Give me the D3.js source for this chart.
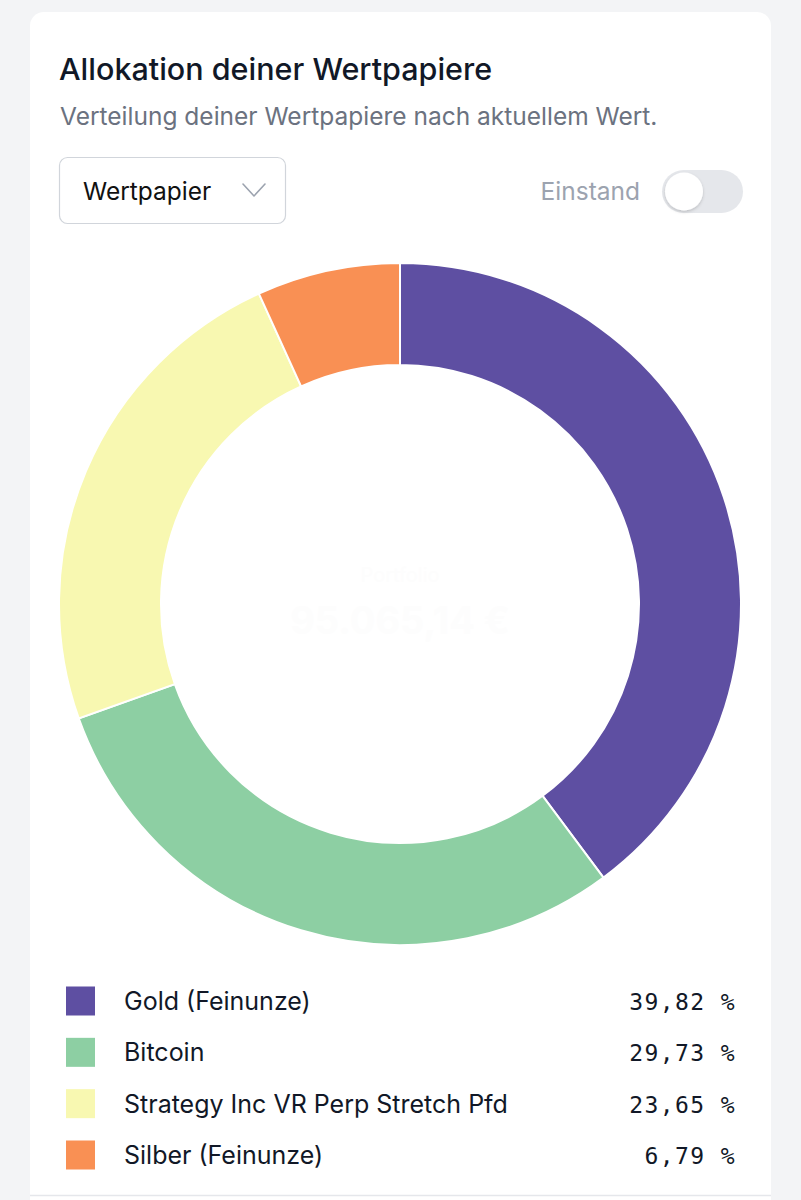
<!DOCTYPE html>
<html lang="de">
<head>
<meta charset="utf-8">
<title>Allokation deiner Wertpapiere</title>
<script src="https://cdn.jsdelivr.net/npm/d3@7"></script>
<style>
  html, body { margin: 0; padding: 0; background: #f3f4f6; }
  svg { display: block; font-family: Inter, "Noto Sans", sans-serif; }
</style>
</head>
<body>
<svg id="chart" width="801" height="1200"></svg>
<script>
// Anteile nach aktuellem Wert (%)
const labels = ['Gold (Feinunze)', 'Bitcoin', 'Strategy Inc VR Perp Stretch Pfd', 'Silber (Feinunze)'];
const shares = [39.82, 29.73, 23.65, 6.79];
const colors = ['#5e4fa2', '#8dcfa3', '#f8f8b1', '#f99054'];

const totalLabel = 'Portfolio';
const totalValue = '95.065,14 €';

const svg = d3.select('#chart');

// card
svg.append('rect')
    .attr('x', 30).attr('y', 12)
    .attr('width', 741).attr('height', 1260)
    .attr('rx', 14)
    .attr('fill', '#ffffff');

svg.append('line')
    .attr('x1', 30).attr('x2', 771)
    .attr('y1', 1195.5).attr('y2', 1195.5)
    .attr('stroke', '#e5e7eb').attr('stroke-width', 1.5);

// header
svg.append('text')
    .attr('x', 59).attr('y', 80)
    .attr('font-size', 30.5).attr('font-weight', 500)
    .attr('fill', '#111827')
    .text('Allokation deiner Wertpapiere');

svg.append('text')
    .attr('x', 60).attr('y', 125)
    .attr('font-size', 24.5)
    .attr('fill', '#6b7280')
    .text('Verteilung deiner Wertpapiere nach aktuellem Wert.');

// dropdown
const dd = svg.append('g');
dd.append('rect')
    .attr('x', 59.5).attr('y', 157.5)
    .attr('width', 226).attr('height', 66)
    .attr('rx', 8)
    .attr('fill', '#fff')
    .attr('stroke', '#d1d5db').attr('stroke-width', 1.2);
dd.append('text')
    .attr('x', 83).attr('y', 200)
    .attr('font-size', 24.5)
    .attr('fill', '#111')
    .text('Wertpapier');
dd.append('path')
    .attr('d', 'M243,184 L254,196 L265,184')
    .attr('fill', 'none')
    .attr('stroke', '#9ca3af').attr('stroke-width', 1.6)
    .attr('stroke-linecap', 'round').attr('stroke-linejoin', 'round');

// toggle
svg.append('text')
    .attr('x', 640).attr('y', 200)
    .attr('text-anchor', 'end')
    .attr('font-size', 24.5)
    .attr('fill', '#9ca3af')
    .text('Einstand');

const defs = svg.append('defs');
const shadow = defs.append('filter').attr('id', 'knob-shadow')
    .attr('x', '-50%').attr('y', '-50%').attr('width', '200%').attr('height', '200%');
shadow.append('feDropShadow')
    .attr('dx', 0).attr('dy', 1.5).attr('stdDeviation', 1.5)
    .attr('flood-color', '#000').attr('flood-opacity', 0.18);

svg.append('rect')
    .attr('x', 662).attr('y', 170)
    .attr('width', 81).attr('height', 43)
    .attr('rx', 21.5)
    .attr('fill', '#e5e7eb');
svg.append('circle')
    .attr('cx', 684).attr('cy', 191.5).attr('r', 19)
    .attr('fill', '#fff')
    .attr('filter', 'url(#knob-shadow)');

// donut
const cx = 400, cy = 604;
const outerR = 341, innerR = 239;

const data = labels.map((name, i) => ({ name, value: shares[i], color: colors[i] }));

const pie = d3.pie()
    .value(d => d.value)
    .sort(null);

const arc = d3.arc()
    .innerRadius(innerR)
    .outerRadius(outerR);

const g = svg.append('g').attr('transform', `translate(${cx},${cy})`);

g.selectAll('path.slice')
    .data(pie(data))
    .join('path')
    .attr('class', 'slice')
    .attr('d', arc)
    .attr('fill', d => d.data.color)
    .attr('stroke', '#ffffff')
    .attr('stroke-width', 2);

// center text (almost invisible in the original)
g.append('text')
    .attr('y', -22)
    .attr('text-anchor', 'middle')
    .attr('font-size', 20)
    .attr('fill', '#fdfdfd')
    .text(totalLabel);
g.append('text')
    .attr('y', 30)
    .attr('text-anchor', 'middle')
    .attr('font-size', 38).attr('font-weight', 700)
    .attr('fill', '#fdfdfd')
    .text(totalValue);

// legend
const fmt = v => d3.format('.2f')(v).replace('.', ',') + ' %';

const y = d3.scalePoint()
    .domain(labels)
    .range([1001, 1155]);

const legend = svg.append('g');
const rows = legend.selectAll('g.row')
    .data(data)
    .join('g')
    .attr('class', 'row')
    .attr('transform', d => `translate(0,${y(d.name)})`);

rows.append('rect')
    .attr('x', 66).attr('y', -14.5)
    .attr('width', 29).attr('height', 29)
    .attr('fill', d => d.color);

rows.append('text')
    .attr('x', 124).attr('y', 9)
    .attr('font-size', 25)
    .attr('fill', '#111827')
    .text(d => d.name);

rows.append('text')
    .attr('x', 736).attr('y', 9)
    .attr('text-anchor', 'end')
    .attr('font-family', '"DejaVu Sans Mono", "Liberation Mono", monospace')
    .attr('font-size', 23)
    .attr('letter-spacing', 1.4)
    .attr('fill', '#111827')
    .text(d => fmt(d.value));
</script>
</body>
</html>
